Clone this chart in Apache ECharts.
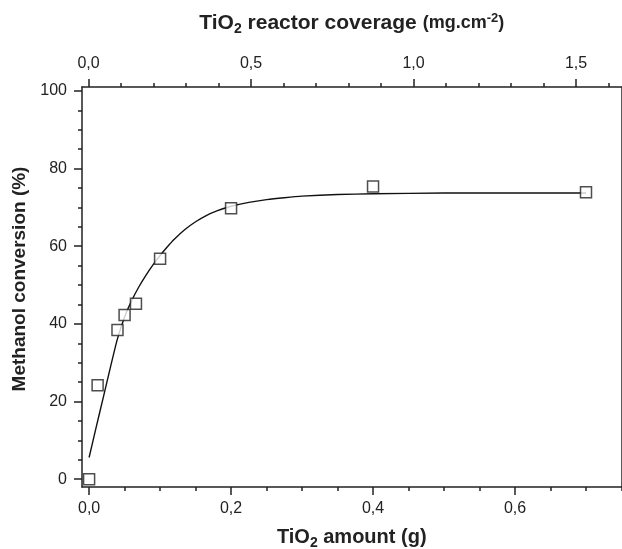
<!DOCTYPE html>
<html>
<head>
<meta charset="utf-8">
<script src="https://cdn.jsdelivr.net/npm/echarts@6/dist/echarts.min.js"></script>
<style>html,body{margin:0;padding:0;background:#fff}#c{width:622px;height:549px}</style>
</head>
<body>
<div id="c"></div>
<script>
// Measured points
var amount = [0, 0.012, 0.04, 0.05, 0.066, 0.1, 0.2, 0.4, 0.7];
var conversion = [0, 24.2, 38.4, 42.3, 45.2, 56.8, 69.8, 75.4, 73.9];
// Fitted curve
var fitX = [0, 0.01, 0.02, 0.03, 0.04, 0.05, 0.06, 0.07, 0.08, 0.09, 0.1, 0.11, 0.12, 0.135, 0.15, 0.165, 0.18, 0.2, 0.225, 0.25, 0.275, 0.3, 0.35, 0.4, 0.5, 0.6, 0.7];
var fitY = [5.6, 13.4, 21.1, 28.8, 36.2, 41.8, 46.0, 49.5, 52.5, 55.2, 57.6, 59.8, 61.8, 64.3, 66.3, 67.9, 69.1, 70.3, 71.3, 72.0, 72.5, 72.9, 73.3, 73.5, 73.7, 73.7, 73.7];
// Tick labels
var bottomMajor = [0, 0.2, 0.4, 0.6];
var bottomMinor = [0.05, 0.1, 0.15, 0.25, 0.3, 0.35, 0.45, 0.5, 0.55, 0.65, 0.7, 0.75];
var topMajor = [0, 0.5, 1.0, 1.5];
var topMinor = [0.1, 0.2, 0.3, 0.4, 0.6, 0.7, 0.8, 0.9, 1.1, 1.2, 1.3, 1.4, 1.6];
var leftMajor = [0, 20, 40, 60, 80, 100];
var leftMinor = [5, 10, 15, 25, 30, 35, 45, 50, 55, 65, 70, 75, 85, 90, 95];

var FONT = '"Liberation Sans", Arial, sans-serif';
var C = '#222';
function comma(v){ return v.toFixed(1).replace('.', ','); }
var lblStyle = {fontFamily: FONT, fontSize: 16, color: C};
var titleRich = {
  b: {fontFamily: FONT, fontSize: 20, fontWeight: 'bold', color: C, lineHeight: 24},
  bt: {fontFamily: FONT, fontSize: 21, fontWeight: 'bold', color: C, lineHeight: 24},
  s: {fontFamily: FONT, fontSize: 18, fontWeight: 'bold', color: C, lineHeight: 24},
  sub: {fontFamily: FONT, fontSize: 14, fontWeight: 'bold', color: C, lineHeight: 24, padding: [12, 0, 0, 0]},
  sup: {fontFamily: FONT, fontSize: 13, fontWeight: 'bold', color: C, lineHeight: 24, padding: [0, 0, 10, 0]}
};
var axLine = {show: true, onZero: false, lineStyle: {color: C, width: 1.5}};
var noLine = {show: false, onZero: false};

var chart = echarts.init(document.getElementById('c'), null, {renderer: 'canvas'});
chart.setOption({
  animation: false,
  backgroundColor: '#fff',
  grid: {left: 82, right: 0.5, top: 87, bottom: 62, containLabel: false, outerBoundsMode: 'none'},
  xAxis: [
    {type: 'value', position: 'bottom', min: -0.01, max: 0.75,
     axisLine: axLine, splitLine: {show: false},
     axisTick: {show: true, inside: false, length: 8, lineStyle: {color: C, width: 1.5}, customValues: bottomMajor},
     axisLabel: Object.assign({margin: 14, customValues: bottomMajor, formatter: comma}, lblStyle),
     name: '{b|TiO}{sub|2}{b| amount (g)}', nameLocation: 'middle', nameGap: 38,
     nameTextStyle: {rich: titleRich}},
    {type: 'value', position: 'bottom', min: -0.01, max: 0.75,
     axisLine: noLine, splitLine: {show: false},
     axisTick: {show: true, inside: false, length: 4, lineStyle: {color: C, width: 1.5}, customValues: bottomMinor},
     axisLabel: {show: false}},
    {type: 'value', position: 'top', min: -0.02, max: 1.64,
     axisLine: axLine, splitLine: {show: false},
     axisTick: {show: true, inside: false, length: 8, lineStyle: {color: C, width: 1.5}, customValues: topMajor},
     axisLabel: Object.assign({margin: 15, customValues: topMajor, formatter: comma}, lblStyle),
     name: '{bt|TiO}{sub|2}{bt| reactor coverage }{s|(mg.cm}{sup|-2}{s|)}', nameLocation: 'middle', nameGap: 52,
     nameTextStyle: {rich: titleRich}},
    {type: 'value', position: 'top', min: -0.02, max: 1.64,
     axisLine: noLine, splitLine: {show: false},
     axisTick: {show: true, inside: false, length: 4, lineStyle: {color: C, width: 1.5}, customValues: topMinor},
     axisLabel: {show: false}}
  ],
  yAxis: [
    {type: 'value', position: 'left', min: -2, max: 101,
     axisLine: axLine, splitLine: {show: false},
     axisTick: {show: true, inside: false, length: 8, lineStyle: {color: C, width: 1.5}, customValues: leftMajor},
     axisLabel: Object.assign({margin: 15, customValues: leftMajor}, lblStyle),
     name: 'Methanol conversion (%)', nameLocation: 'middle', nameGap: 50, nameRotate: 90,
     nameTextStyle: {fontFamily: FONT, fontSize: 19, fontWeight: 'bold', color: C, padding: [0, 0, 0, 16]}},
    {type: 'value', position: 'left', min: -2, max: 101,
     axisLine: noLine, splitLine: {show: false},
     axisTick: {show: true, inside: false, length: 4, lineStyle: {color: C, width: 1.5}, customValues: leftMinor},
     axisLabel: {show: false}},
    {type: 'value', position: 'right', min: -2, max: 101,
     axisLine: axLine, splitLine: {show: false},
     axisTick: {show: false}, axisLabel: {show: false}}
  ],
  series: [
    {type: 'line', xAxisIndex: 0, yAxisIndex: 0, smooth: 0.2, symbol: 'none',
     lineStyle: {color: '#111', width: 1.4},
     data: fitX.map(function(x, i){ return [x, fitY[i]]; }), z: 2},
    {type: 'scatter', xAxisIndex: 0, yAxisIndex: 0, symbol: 'rect', symbolSize: 11,
     itemStyle: {color: '#fff', borderColor: C, borderWidth: 1.5},
     data: amount.map(function(x, i){ return [x, conversion[i]]; }), z: 3}
  ]
});
</script>
</body>
</html>
